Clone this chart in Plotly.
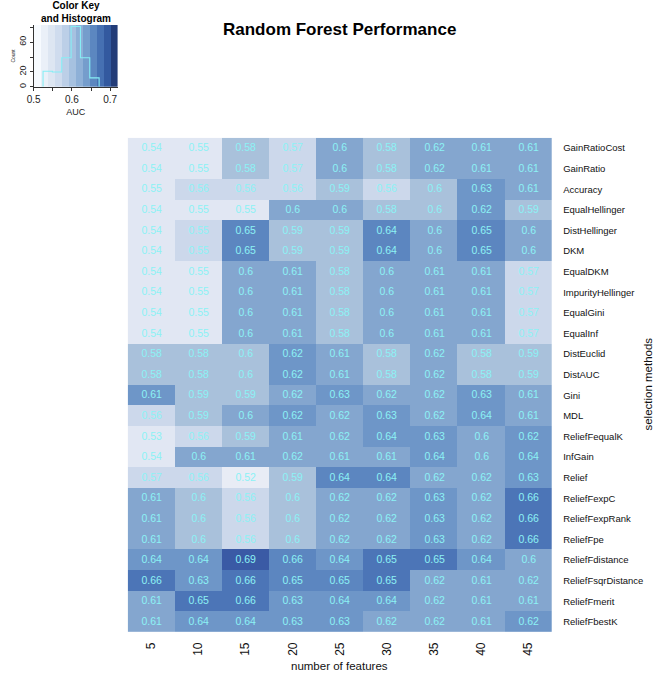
import numpy as np
import plotly.graph_objects as go

W, H = 661, 677

features = ["5", "10", "15", "20", "25", "30", "35", "40", "45"]
methods = ["GainRatioCost", "GainRatio", "Accuracy", "EqualHellinger", "DistHellinger",
           "DKM", "EqualDKM", "ImpurityHellinger", "EqualGini", "EqualInf", "DistEuclid",
           "DistAUC", "Gini", "MDL", "ReliefFequalK", "InfGain", "Relief", "ReliefFexpC",
           "ReliefFexpRank", "ReliefFpe", "ReliefFdistance", "ReliefFsqrDistance",
           "ReliefFmerit", "ReliefFbestK"]

# printed cell notes (AUC, rounded)
auc_notes = [
    [0.54, 0.55, 0.58, 0.57, 0.60, 0.58, 0.62, 0.61, 0.61],
    [0.54, 0.55, 0.58, 0.57, 0.60, 0.58, 0.62, 0.61, 0.61],
    [0.55, 0.56, 0.56, 0.56, 0.59, 0.56, 0.60, 0.63, 0.61],
    [0.54, 0.55, 0.55, 0.60, 0.60, 0.58, 0.60, 0.62, 0.59],
    [0.54, 0.55, 0.65, 0.59, 0.59, 0.64, 0.60, 0.65, 0.60],
    [0.54, 0.55, 0.65, 0.59, 0.59, 0.64, 0.60, 0.65, 0.60],
    [0.54, 0.55, 0.60, 0.61, 0.58, 0.60, 0.61, 0.61, 0.57],
    [0.54, 0.55, 0.60, 0.61, 0.58, 0.60, 0.61, 0.61, 0.57],
    [0.54, 0.55, 0.60, 0.61, 0.58, 0.60, 0.61, 0.61, 0.57],
    [0.54, 0.55, 0.60, 0.61, 0.58, 0.60, 0.61, 0.61, 0.57],
    [0.58, 0.58, 0.60, 0.62, 0.61, 0.58, 0.62, 0.58, 0.59],
    [0.58, 0.58, 0.60, 0.62, 0.61, 0.58, 0.62, 0.58, 0.59],
    [0.61, 0.59, 0.59, 0.62, 0.63, 0.62, 0.62, 0.63, 0.61],
    [0.56, 0.59, 0.60, 0.62, 0.62, 0.63, 0.62, 0.64, 0.61],
    [0.53, 0.56, 0.59, 0.61, 0.62, 0.64, 0.63, 0.60, 0.62],
    [0.54, 0.60, 0.61, 0.62, 0.61, 0.61, 0.64, 0.60, 0.64],
    [0.57, 0.56, 0.52, 0.59, 0.64, 0.64, 0.62, 0.62, 0.63],
    [0.61, 0.60, 0.56, 0.60, 0.62, 0.62, 0.63, 0.62, 0.66],
    [0.61, 0.60, 0.56, 0.60, 0.62, 0.62, 0.63, 0.62, 0.66],
    [0.61, 0.60, 0.56, 0.60, 0.62, 0.62, 0.63, 0.62, 0.66],
    [0.64, 0.64, 0.69, 0.66, 0.64, 0.65, 0.65, 0.64, 0.60],
    [0.66, 0.63, 0.66, 0.65, 0.65, 0.65, 0.62, 0.61, 0.62],
    [0.61, 0.65, 0.66, 0.63, 0.64, 0.64, 0.62, 0.61, 0.61],
    [0.61, 0.64, 0.64, 0.63, 0.63, 0.62, 0.62, 0.61, 0.62],
]

# AUC driving the cell colour, estimated from each cell's shade
auc_shade = [
    [0.545, 0.545, 0.585, 0.565, 0.610, 0.585, 0.610, 0.610, 0.610],
    [0.545, 0.545, 0.585, 0.565, 0.610, 0.585, 0.610, 0.610, 0.610],
    [0.545, 0.565, 0.565, 0.565, 0.585, 0.565, 0.585, 0.630, 0.610],
    [0.545, 0.545, 0.545, 0.610, 0.610, 0.585, 0.585, 0.630, 0.585],
    [0.545, 0.565, 0.648, 0.585, 0.585, 0.648, 0.610, 0.648, 0.610],
    [0.545, 0.565, 0.648, 0.585, 0.585, 0.648, 0.610, 0.648, 0.610],
    [0.545, 0.545, 0.610, 0.610, 0.585, 0.610, 0.610, 0.610, 0.565],
    [0.545, 0.545, 0.610, 0.610, 0.585, 0.610, 0.610, 0.610, 0.565],
    [0.545, 0.545, 0.610, 0.610, 0.585, 0.610, 0.610, 0.610, 0.565],
    [0.545, 0.545, 0.610, 0.610, 0.585, 0.610, 0.610, 0.610, 0.565],
    [0.585, 0.585, 0.585, 0.630, 0.610, 0.585, 0.610, 0.585, 0.585],
    [0.585, 0.585, 0.585, 0.630, 0.610, 0.585, 0.610, 0.585, 0.585],
    [0.630, 0.585, 0.585, 0.610, 0.630, 0.610, 0.610, 0.630, 0.610],
    [0.565, 0.585, 0.610, 0.630, 0.610, 0.630, 0.610, 0.630, 0.610],
    [0.540, 0.565, 0.585, 0.610, 0.610, 0.630, 0.630, 0.610, 0.630],
    [0.545, 0.610, 0.610, 0.610, 0.610, 0.610, 0.630, 0.610, 0.630],
    [0.565, 0.565, 0.525, 0.585, 0.648, 0.648, 0.610, 0.610, 0.630],
    [0.610, 0.585, 0.565, 0.585, 0.610, 0.610, 0.630, 0.610, 0.665],
    [0.610, 0.585, 0.565, 0.585, 0.610, 0.610, 0.630, 0.610, 0.665],
    [0.610, 0.585, 0.565, 0.585, 0.610, 0.610, 0.630, 0.610, 0.665],
    [0.630, 0.630, 0.685, 0.648, 0.630, 0.665, 0.665, 0.630, 0.610],
    [0.665, 0.630, 0.665, 0.648, 0.648, 0.665, 0.610, 0.610, 0.610],
    [0.610, 0.665, 0.665, 0.630, 0.630, 0.630, 0.610, 0.610, 0.610],
    [0.610, 0.630, 0.630, 0.630, 0.630, 0.610, 0.610, 0.610, 0.630],
]

# colour key / histogram
hist_breaks = np.linspace(0.5, 0.72, 10)
hist_counts = [0, 21, 20, 39, 81, 39, 12, 0, 0]
key_edges = np.linspace(0.5, 0.72, 13)
key_colors = ["#f7fbff", "#eaf0f8", "#dde6f2", "#cfdcee", "#bccfe7", "#a6c1e0",
              "#8eb0d7", "#759dcc", "#5c87c0", "#4670b2", "#33599f", "#233c78"]

# heatmap discrete colour bins (AUC thresholds / colours)
bin_edges = [0.5, 0.535, 0.555, 0.575, 0.598, 0.62, 0.64, 0.656, 0.675, 0.695, 0.72]
bin_colors = ["#e8ecf5", "#e1e7f3", "#ccd8eb", "#a9c1db", "#84a6cf", "#6e96c8",
              "#5c86c0", "#4c75b7", "#3a5aa5", "#23386f"]

zmin, zmax = bin_edges[0], bin_edges[-1]
cscale = []
for i, c in enumerate(bin_colors):
    lo = (bin_edges[i] - zmin) / (zmax - zmin)
    hi = (bin_edges[i + 1] - zmin) / (zmax - zmin)
    cscale.append([lo, c])
    cscale.append([hi, c])

notes_text = [[f"{v:g}" for v in row] for row in auc_notes]

FONT = "Liberation Sans, Arial, Helvetica, sans-serif"

fig = go.Figure()
fig.add_trace(go.Heatmap(
    z=auc_shade, x=features, y=methods, text=notes_text,
    texttemplate="%{text}", textfont=dict(color="#8cf2f5", size=10.5, family=FONT),
    colorscale=cscale, zmin=zmin, zmax=zmax, showscale=False,
    xaxis="x", yaxis="y", hoverinfo="skip"))

# key bands
key_mid = [(key_edges[i] + key_edges[i + 1]) / 2 for i in range(len(key_colors))]
kscale = []
for i, c in enumerate(key_colors):
    kscale.append([i / len(key_colors), c])
    kscale.append([(i + 1) / len(key_colors), c])
fig.add_trace(go.Heatmap(
    z=[key_mid], x=list(key_edges), y=[0, 83], colorscale=kscale,
    zmin=key_edges[0], zmax=key_edges[-1], showscale=False,
    xaxis="x2", yaxis="y2", hoverinfo="skip"))

# histogram step line
hx, hy = [], []
first = next(i for i, c in enumerate(hist_counts) if c > 0)
last = max(i for i, c in enumerate(hist_counts) if c > 0)
hx.append(hist_breaks[first]); hy.append(0)
for i in range(first, last + 1):
    hx.append(hist_breaks[i]); hy.append(hist_counts[i])
hx.append(hist_breaks[last + 1]); hy.append(0)
fig.add_trace(go.Scatter(x=hx, y=hy, mode="lines", line=dict(color="#86eef5", width=1.1, shape="hv"),
                         xaxis="x2", yaxis="y2", hoverinfo="skip", showlegend=False))

fig.update_layout(
    width=W, height=H, margin=dict(l=0, r=0, t=0, b=0),
    paper_bgcolor="white", plot_bgcolor="white", showlegend=False,
    font=dict(family=FONT, color="#222"),
    xaxis=dict(domain=[122 / W, 551 / W], anchor="y", type="category",
               tickangle=-90, tickfont=dict(size=12, color="#111"), ticks="",
               ticklabelstandoff=7, showgrid=True, tickson="boundaries",
               gridcolor="rgba(255,255,255,0.22)", gridwidth=1, layer="above traces",
               zeroline=False, showline=False),
    yaxis=dict(domain=[1 - 633 / H, 1 - 138 / H], anchor="x", type="category",
               autorange="reversed", side="right", tickfont=dict(size=9.5, color="#111"),
               ticks="", ticklabelstandoff=10, showgrid=True, tickson="boundaries",
               gridcolor="rgba(255,255,255,0.22)", gridwidth=1, layer="above traces",
               zeroline=False),
    xaxis2=dict(domain=[27 / W, 112 / W], anchor="y2", range=[0.5, 0.72],
                tickvals=[0.5, 0.55, 0.6, 0.65, 0.7], ticktext=["0.5", "", "0.6", "", "0.7"],
                ticks="outside", ticklen=3, tickcolor="#333", tickfont=dict(size=10, color="#222"),
                showline=True, linecolor="#333", linewidth=1, showgrid=False, zeroline=False,
                title=dict(text="AUC", font=dict(size=9, color="#222"), standoff=4)),
    yaxis2=dict(domain=[1 - 87 / H, 1 - 25 / H], anchor="x2", range=[0, 83],
                tickvals=[0, 20, 40, 60, 80], ticktext=["0", "20", "", "60", ""],
                tickangle=-90, ticks="outside", ticklen=3, tickcolor="#333",
                tickfont=dict(size=9, color="#222"),
                showline=True, linecolor="#333", linewidth=1, showgrid=False, zeroline=False,
                title=dict(text="Count", font=dict(size=5, color="#222"), standoff=2)),
)

fig.add_annotation(text="<b>Random Forest Performance</b>", x=336 / W, y=1 - 30 / H,
                   xref="paper", yref="paper", showarrow=False,
                   font=dict(size=17, color="#000", family=FONT), xanchor="center", yanchor="middle")
fig.add_annotation(text="<b>Color Key<br>and Histogram</b>", x=70 / W, y=1 - 12 / H,
                   xref="paper", yref="paper", showarrow=False,
                   font=dict(size=10, color="#000", family=FONT), xanchor="center", yanchor="middle")
fig.add_annotation(text="number of features", x=336 / W, y=1 - 667 / H,
                   xref="paper", yref="paper", showarrow=False,
                   font=dict(size=11.5, color="#111", family=FONT), xanchor="center", yanchor="middle")
fig.add_annotation(text="selection methods", x=648 / W, y=1 - 385 / H, textangle=-90,
                   xref="paper", yref="paper", showarrow=False,
                   font=dict(size=11.5, color="#111", family=FONT), xanchor="center", yanchor="middle")

fig.write_html("out.html", config={"displayModeBar": False},
               post_script="document.body.style.margin='0';document.body.style.overflow='hidden';")
